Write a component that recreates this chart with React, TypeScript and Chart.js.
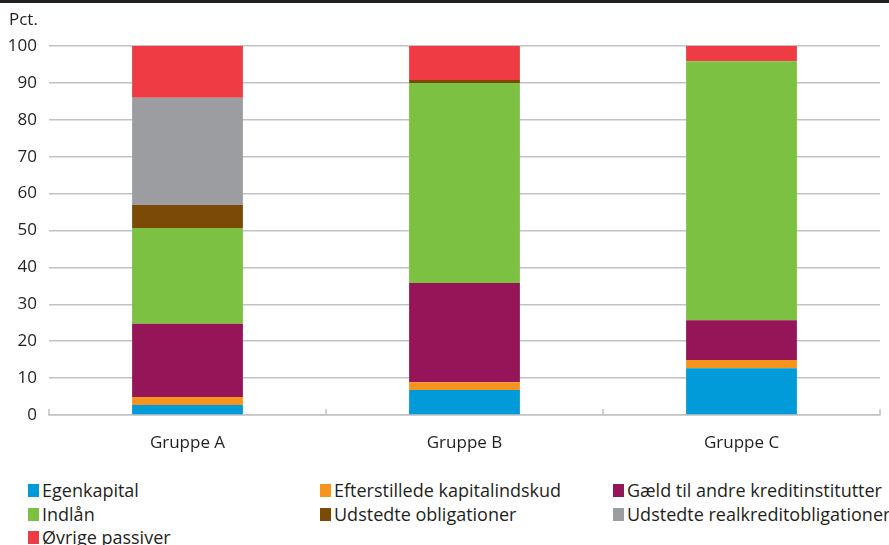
import React, { useEffect, useRef } from "react";
import { Chart, registerables } from "chart.js";

Chart.register(...registerables);

// Balance composition by group, percent of total liabilities
const categories = ["Gruppe A", "Gruppe B", "Gruppe C"];

const egenkapital = [2.7, 6.8, 12.7];
const efterstillede = [2.2, 2.1, 2.2];
const gaeld = [19.8, 26.9, 10.8];
const indlaan = [26.0, 54.2, 70.2];
const udstedteObl = [6.2, 0.8, 0];
const realkreditObl = [29.1, 0, 0];
const oevrige = [14.0, 9.2, 4.1];

const seriesNames = [
  "Egenkapital",
  "Efterstillede kapitalindskud",
  "Gæld til andre kreditinstitutter",
  "Indlån",
  "Udstedte obligationer",
  "Udstedte realkreditobligationer",
  "Øvrige passiver",
];
const seriesValues = [egenkapital, efterstillede, gaeld, indlaan, udstedteObl, realkreditObl, oevrige];
const seriesColors = ["#009bd8", "#f7941d", "#961558", "#7dc142", "#7b4a06", "#9c9da1", "#ef3b43"];

const yTicks = [0, 10, 20, 30, 40, 50, 60, 70, 80, 90, 100];

const TEXT = "#231f20";
const GRID = "#c2c2c4";
const FONT = "'Open Sans', 'Noto Sans', sans-serif";

const decorPlugin = {
  id: "decor",
  beforeDatasetsDraw(chart: any) {
    const ctx = chart.ctx;
    const x = chart.scales.x;
    const area = chart.chartArea;
    ctx.save();
    // category separator ticks rising from the baseline
    ctx.strokeStyle = GRID;
    ctx.lineWidth = 1.5;
    for (let i = 0; i <= categories.length; i++) {
      const px = x.getPixelForValue(i - 0.5);
      ctx.beginPath();
      ctx.moveTo(px, area.bottom);
      ctx.lineTo(px, area.bottom - 6);
      ctx.stroke();
    }
    ctx.restore();
  },
  afterDraw(chart: any) {
    const ctx = chart.ctx;
    ctx.save();
    // top rule
    ctx.fillStyle = TEXT;
    ctx.fillRect(0, 0, chart.width, 3);
    // unit label
    ctx.fillStyle = TEXT;
    ctx.font = `17px ${FONT}`;
    ctx.textBaseline = "middle";
    ctx.textAlign = "left";
    ctx.fillText("Pct.", 9, 20);
    ctx.restore();
  },
};

export default function App() {
  const ref = useRef<HTMLCanvasElement | null>(null);

  useEffect(() => {
    document.body.style.margin = "0";
    const chart = new Chart(ref.current as HTMLCanvasElement, {
      type: "bar",
      data: {
        labels: categories,
        datasets: seriesNames.map((name, i) => ({
          label: name,
          data: seriesValues[i],
          backgroundColor: seriesColors[i],
          borderWidth: 0,
          categoryPercentage: 1,
          barPercentage: 0.4,
        })),
      },
      options: {
        animation: false,
        responsive: false,
        maintainAspectRatio: false,
        layout: { padding: { top: 46, right: 9, left: 0, bottom: 0 } },
        plugins: {
          legend: { display: false },
          tooltip: { enabled: false },
        },
        scales: {
          x: {
            stacked: true,
            grid: { display: false, drawTicks: false },
            border: { display: true, color: GRID, width: 1.5 },
            ticks: { color: TEXT, font: { family: FONT, size: 17 }, padding: 18 },
            afterFit(scale: any) {
              scale.height = 55;
            },
          },
          y: {
            stacked: true,
            min: 0,
            max: 100,
            afterBuildTicks(scale: any) {
              scale.ticks = yTicks.map((v) => ({ value: v }));
            },
            grid: { color: GRID, lineWidth: 1.5, drawTicks: false },
            border: { display: false },
            ticks: { color: TEXT, font: { family: FONT, size: 17 }, padding: 12 },
            afterFit(scale: any) {
              scale.width = 49;
            },
          },
        },
      },
      plugins: [decorPlugin],
    });
    return () => chart.destroy();
  }, []);

  const legendCols = [28, 320, 613];
  const legendRows = [478, 502, 525];

  return (
    <div style={{ position: "relative", width: 889, height: 545, background: "#fff", overflow: "hidden" }}>
      <canvas ref={ref} width={889} height={470} style={{ display: "block" }} />
      {seriesNames.map((name, i) => (
        <div
          key={name}
          style={{
            position: "absolute",
            left: legendCols[i % 3],
            top: legendRows[Math.floor(i / 3)],
            height: 24,
            display: "flex",
            alignItems: "center",
            fontFamily: FONT,
            fontSize: 18,
            color: TEXT,
            whiteSpace: "nowrap",
          }}
        >
          <span
            style={{
              display: "inline-block",
              width: 11,
              height: 13,
              background: seriesColors[i],
              marginRight: 3,
            }}
          />
          <span>{name}</span>
        </div>
      ))}
    </div>
  );
}
